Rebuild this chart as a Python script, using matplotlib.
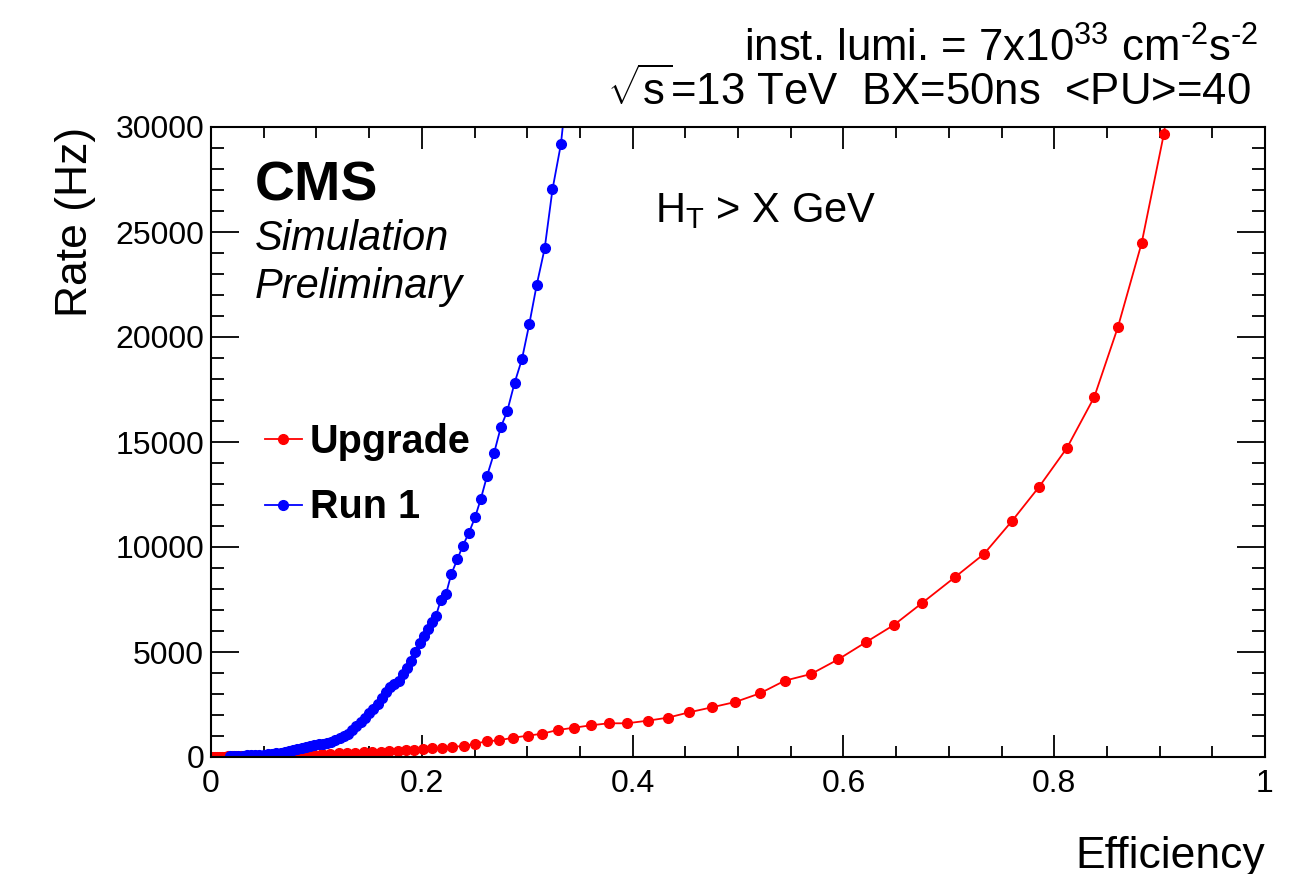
import matplotlib
matplotlib.use("Agg")
import matplotlib.pyplot as plt
from matplotlib.ticker import MultipleLocator, FixedLocator

plt.rcParams['font.family'] = ['Liberation Sans', 'DejaVu Sans']
plt.rcParams['mathtext.fontset'] = 'custom'
plt.rcParams['mathtext.rm'] = 'Liberation Sans'
plt.rcParams['mathtext.it'] = 'Liberation Sans:italic'
plt.rcParams['mathtext.bf'] = 'Liberation Sans:bold'

# ---------------- data ----------------
upgrade_eff = [0.000, 0.002, 0.004, 0.006, 0.008, 0.010, 0.013, 0.016, 0.020, 0.024,
               0.028, 0.033, 0.038, 0.044, 0.050, 0.056, 0.062, 0.069, 0.076, 0.083,
               0.090, 0.097, 0.105, 0.113, 0.121, 0.129, 0.137, 0.145, 0.153, 0.161,
               0.169, 0.177, 0.185, 0.193, 0.201, 0.210, 0.219, 0.229, 0.240, 0.250,
               0.2614, 0.2733, 0.2866, 0.3005, 0.3143, 0.329, 0.3444, 0.3605, 0.3773, 0.3947,
               0.4143, 0.4333, 0.4538, 0.4753, 0.4974, 0.5209, 0.5443, 0.5693, 0.5952, 0.6212,
               0.648, 0.6746, 0.706, 0.7334, 0.760, 0.7856, 0.812, 0.838, 0.8605, 0.883,
               0.904, 0.915]
upgrade_rate = [5, 8, 10, 12, 15, 18, 20, 24, 28, 32,
                36, 40, 45, 50, 56, 62, 70, 80, 90, 100,
                112, 125, 140, 155, 170, 185, 200, 215, 230, 250,
                270, 290, 310, 340, 370, 410, 450, 490, 520, 630,
                747, 795, 920, 1014, 1110, 1286, 1395, 1510, 1605, 1605,
                1729, 1871, 2129, 2367, 2619, 3033, 3633, 3952, 4652, 5462,
                6290, 7330, 8570, 9670, 11240, 12860, 14710, 17140, 20480, 24480,
                29660, 33500]

run1_eff = [0.018, 0.022, 0.026, 0.030, 0.034, 0.038, 0.042, 0.046, 0.050, 0.054,
            0.058, 0.062, 0.066, 0.070, 0.074, 0.078, 0.082, 0.086, 0.090, 0.094,
            0.098, 0.102, 0.106, 0.110, 0.114, 0.118, 0.122, 0.126, 0.130, 0.134,
            0.138, 0.142, 0.146, 0.150, 0.154, 0.158, 0.162, 0.166, 0.170, 0.174,
            0.178, 0.182, 0.186, 0.190, 0.194, 0.198, 0.202, 0.206, 0.210, 0.2135,
            0.218, 0.223, 0.228, 0.2337, 0.2388, 0.2445, 0.2505, 0.256, 0.262, 0.2685,
            0.275, 0.281, 0.288, 0.295, 0.302, 0.309, 0.3166, 0.324, 0.332, 0.339]
run1_rate = [60, 62, 65, 68, 72, 78, 85, 95, 110, 130,
             150, 170, 195, 230, 270, 320, 370, 420, 470, 520,
             580, 620, 640, 660, 720, 800, 900, 1000, 1100, 1300,
             1500, 1650, 1850, 2080, 2300, 2520, 2820, 3100, 3330, 3480,
             3620, 3950, 4250, 4580, 5000, 5450, 5780, 6100, 6450, 6730,
             7475, 7775, 8715, 9410, 10050, 10650, 11410, 12290, 13400, 14460,
             15710, 16460, 17810, 18940, 20620, 22475, 24225, 27030, 29190, 32500]

x_major = [0, 0.2, 0.4, 0.6, 0.8, 1.0]
x_labels = ["0", "0.2", "0.4", "0.6", "0.8", "1"]
y_major = [0, 5000, 10000, 15000, 20000, 25000, 30000]
y_labels = ["0", "5000", "10000", "15000", "20000", "25000", "30000"]

# ---------------- figure ----------------
fig = plt.figure(figsize=(13.01, 8.74), dpi=100)
ax = fig.add_axes([211/1301, 1-757/874, (1265-211)/1301, (757-127)/874])

ax.plot(upgrade_eff, upgrade_rate, color='#ff0000', lw=1.3, marker='o', ms=7,
        mec='#ff0000', mfc='#ff0000', label='Upgrade')
ax.plot(run1_eff, run1_rate, color='#0000ff', lw=1.3, marker='o', ms=7,
        mec='#0000ff', mfc='#0000ff', label='Run 1')

ax.set_xlim(0, 1)
ax.set_ylim(0, 30000)
ax.xaxis.set_major_locator(FixedLocator(x_major))
ax.set_xticklabels(x_labels)
ax.yaxis.set_major_locator(FixedLocator(y_major))
ax.set_yticklabels(y_labels)
ax.xaxis.set_minor_locator(MultipleLocator(0.05))
ax.yaxis.set_minor_locator(MultipleLocator(1000))

for s in ax.spines.values():
    s.set_linewidth(1.5)

ax.tick_params(which='both', direction='in', top=True, right=True, width=1.3)
ax.tick_params(axis='x', which='major', length=16, labelsize=23, pad=9)
ax.tick_params(axis='x', which='minor', length=8)
ax.tick_params(axis='y', which='major', length=20, labelsize=23, pad=5)
ax.tick_params(axis='y', which='minor', length=9.5)

ax.set_xlabel('Efficiency', fontsize=32, loc='right', labelpad=26)
ax.set_ylabel('Rate (Hz)', fontsize=32, loc='top', labelpad=14)

ax.text(0.0417, 0.884, 'CMS', transform=ax.transAxes, fontsize=40, fontweight='bold')
ax.text(0.0417, 0.805, 'Simulation', transform=ax.transAxes, fontsize=30, style='italic')
ax.text(0.0417, 0.729, 'Preliminary', transform=ax.transAxes, fontsize=30, style='italic')
ax.text(0.421, 0.849, r'H$_{\mathrm{T}}$ > X GeV', transform=ax.transAxes, fontsize=30)

leg = ax.legend(loc='upper left', bbox_to_anchor=(0.032, 0.562), frameon=False,
                prop={'size': 28.5, 'weight': 'bold'}, handlelength=0.95,
                handletextpad=0.2, labelspacing=0.7, markerscale=1.0,
                borderpad=0.0)

fig.text(0.967, 0.929, r'inst. lumi. = 7x10$^{33}$ cm$^{\text{-2}}$s$^{\text{-2}}$',
         ha='right', va='baseline', fontsize=31.5)
fig.text(0.961, 0.880, r'$\sqrt{\mathrm{s}}$=13 TeV  BX=50ns  <PU>=40',
         ha='right', va='baseline', fontsize=31.5)

fig.savefig('out.png', dpi=100)
